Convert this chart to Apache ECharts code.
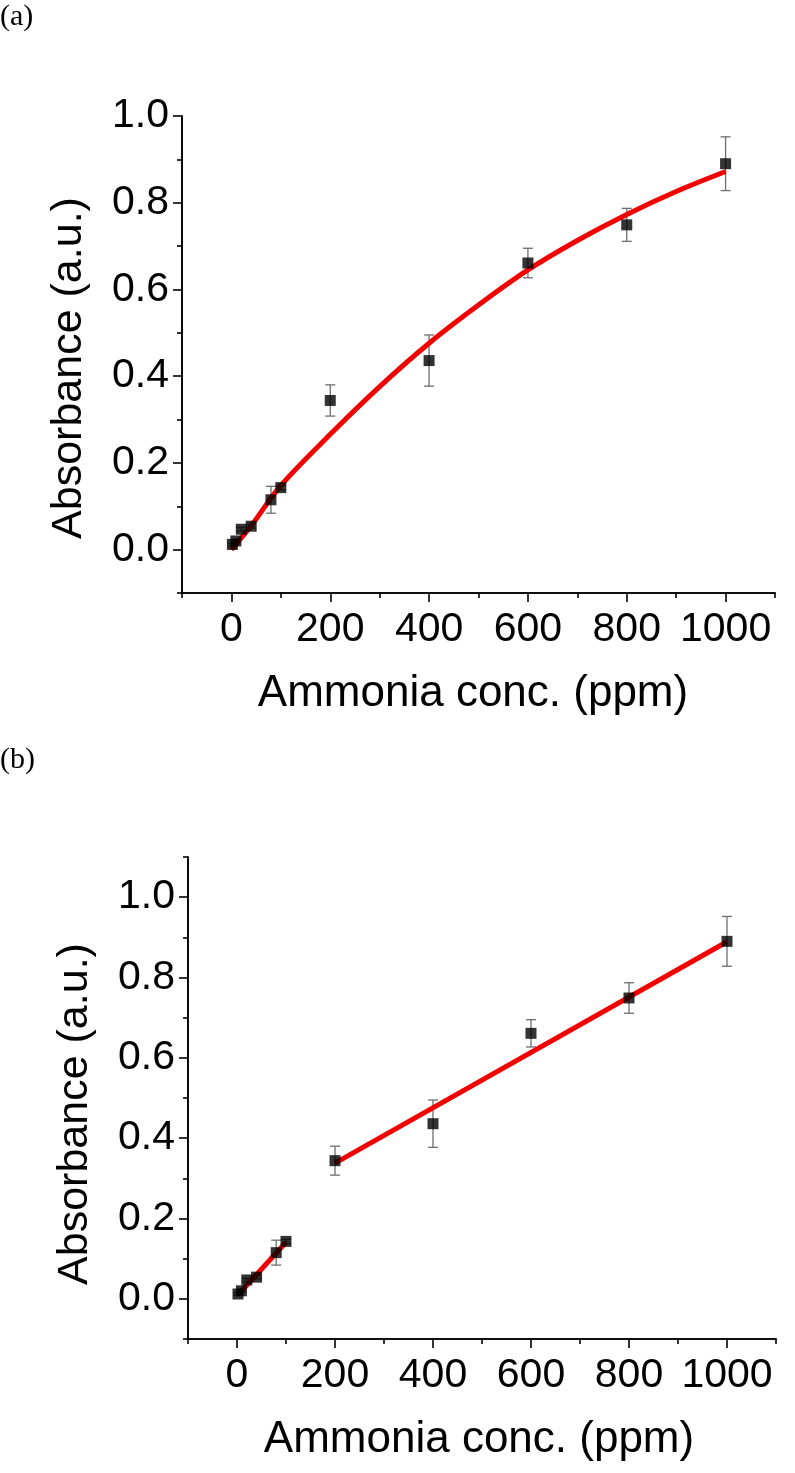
<!DOCTYPE html>
<html>
<head>
<meta charset="utf-8">
<script src="https://cdn.jsdelivr.net/npm/echarts@6/dist/echarts.min.js"></script>
<style>
html,body{margin:0;padding:0;background:#fff;}
#chart{width:795px;height:1473px;}
</style>
</head>
<body>
<div id="chart"></div>
<script>
// ---- data ----
const conc = [2, 9, 20, 40, 80, 100, 200, 400, 600, 800, 1000];
const absorbance = [0.012, 0.020, 0.047, 0.054, 0.115, 0.143, 0.344, 0.436, 0.661, 0.749, 0.890];
const errHalf = [0.003, 0.004, 0.004, 0.004, 0.031, 0.005, 0.036, 0.059, 0.034, 0.038, 0.062];

// panel (a) fitted curve
const fitCurveX = [0, 40, 100, 200, 300, 400, 500, 600, 700, 800, 900, 1000];
const fitCurveY = [0.0, 0.055, 0.148, 0.266, 0.376, 0.476, 0.564, 0.645, 0.713, 0.773, 0.826, 0.872];

// panel (b) two linear segments
const lowFitX = [3, 100];
const lowFitY = [0.011, 0.141];
const highFitX = [200, 1000];
const highFitY = [0.338, 0.889];

const xMajorTicks = [0, 200, 400, 600, 800, 1000];
const xMinorTicks = [-100, 100, 300, 500, 700, 900, 1100];
const yMajorTicks = [0, 0.2, 0.4, 0.6, 0.8, 1.0];
const yMinorTicksA = [-0.1, 0.1, 0.3, 0.5, 0.7, 0.9];
const yMinorTicksB = [-0.1, 0.1, 0.3, 0.5, 0.7, 0.9, 1.1];

const points = conc.map((x, i) => [x, absorbance[i]]);
const errs = conc.map((x, i) => [x, absorbance[i] - errHalf[i], absorbance[i] + errHalf[i]]);
const zip = (xs, ys) => xs.map((x, i) => [x, ys[i]]);

const chart = echarts.init(document.getElementById('chart'), null, {renderer: 'canvas'});

const axisLine = {show: true, onZero: false, lineStyle: {color: '#000', width: 1.6}};

function xAxes(grid) {
  return [
    {
      type: 'value', gridIndex: grid, min: -100, max: 1100, position: 'bottom',
      axisLine: axisLine,
      axisTick: {show: true, inside: false, length: 9, lineStyle: {color: '#000', width: 1.6}, customValues: xMajorTicks},
      axisLabel: {show: true, customValues: xMajorTicks, margin: 16, color: '#000', fontSize: 41,
        fontFamily: '"Liberation Sans Narrow", "Arial Narrow", "Liberation Sans", Arial, sans-serif',
        formatter: v => String(Math.round(v))},
      splitLine: {show: false}
    },
    {
      type: 'value', gridIndex: grid, min: -100, max: 1100, position: 'bottom',
      axisLine: axisLine,
      axisTick: {show: true, inside: false, length: 5, lineStyle: {color: '#000', width: 1.6}, customValues: xMinorTicks},
      axisLabel: {show: false},
      splitLine: {show: false}
    }
  ];
}

function yAxes(grid, max, minor) {
  return [
    {
      type: 'value', gridIndex: grid, min: -0.1, max: max, position: 'left',
      axisLine: axisLine,
      axisTick: {show: true, inside: false, length: 9, lineStyle: {color: '#000', width: 1.6}, customValues: yMajorTicks},
      axisLabel: {show: true, customValues: yMajorTicks, margin: 13, color: '#000', fontSize: 41,
        fontFamily: '"Liberation Sans", Arial, sans-serif',
        formatter: v => v.toFixed(1)},
      splitLine: {show: false}
    },
    {
      type: 'value', gridIndex: grid, min: -0.1, max: max, position: 'left',
      axisLine: axisLine,
      axisTick: {show: true, inside: false, length: 5, lineStyle: {color: '#000', width: 1.6}, customValues: minor},
      axisLabel: {show: false},
      splitLine: {show: false}
    }
  ];
}

function errorSeries(xi, yi) {
  return {
    type: 'custom', xAxisIndex: xi, yAxisIndex: yi, z: 2,
    data: errs,
    renderItem: function (params, api) {
      const x = api.value(0);
      const top = api.coord([x, api.value(2)]);
      const bot = api.coord([x, api.value(1)]);
      const cap = 5;
      const st = {stroke: '#6e6e6e', lineWidth: 1.3};
      return {
        type: 'group',
        children: [
          {type: 'line', shape: {x1: top[0], y1: top[1], x2: bot[0], y2: bot[1]}, style: st},
          {type: 'line', shape: {x1: top[0] - cap, y1: top[1], x2: top[0] + cap, y2: top[1]}, style: st},
          {type: 'line', shape: {x1: bot[0] - cap, y1: bot[1], x2: bot[0] + cap, y2: bot[1]}, style: st}
        ]
      };
    }
  };
}

function scatterSeries(xi, yi) {
  return {
    type: 'scatter', xAxisIndex: xi, yAxisIndex: yi, z: 4,
    symbol: 'rect', symbolSize: 11,
    itemStyle: {color: '#000'},
    data: points
  };
}

function lineSeries(xi, yi, data, smooth) {
  return {
    type: 'line', xAxisIndex: xi, yAxisIndex: yi, z: 3,
    data: data, smooth: smooth, showSymbol: false, symbol: 'none',
    lineStyle: {color: '#f20000', width: 5}
  };
}

const serif = '"Liberation Serif", "Times New Roman", serif';
const sans = '"Liberation Sans", Arial, sans-serif';

const option = {
  backgroundColor: '#fff',
  animation: false,
  grid: [
    {left: 182, top: 116, width: 593, height: 477},
    {left: 188, top: 857, width: 588, height: 482}
  ],
  xAxis: [...xAxes(0), ...xAxes(1)],
  yAxis: [...yAxes(0, 1.0, yMinorTicksA), ...yAxes(1, 1.1, yMinorTicksB)],
  series: [
    errorSeries(0, 0),
    lineSeries(0, 0, zip(fitCurveX, fitCurveY), 0.3),
    scatterSeries(0, 0),
    errorSeries(2, 2),
    lineSeries(2, 2, zip(lowFitX, lowFitY), false),
    lineSeries(2, 2, zip(highFitX, highFitY), false),
    scatterSeries(2, 2)
  ],
  graphic: [
    {type: 'text', left: 0, top: 2, style: {text: '(a)', fontSize: 30, fontFamily: serif, fill: '#000'}},
    {type: 'text', left: 0, top: 745, style: {text: '(b)', fontSize: 30, fontFamily: serif, fill: '#000'}},
    {type: 'text', x: 473, y: 694, style: {text: 'Ammonia conc. (ppm)', fontSize: 44, fontFamily: sans, fill: '#000', align: 'center', verticalAlign: 'middle'}},
    {type: 'text', x: 479, y: 1440, style: {text: 'Ammonia conc. (ppm)', fontSize: 44, fontFamily: sans, fill: '#000', align: 'center', verticalAlign: 'middle'}},
    {type: 'text', x: 69, y: 368, rotation: Math.PI / 2, style: {text: 'Absorbance (a.u.)', fontSize: 43, fontFamily: sans, fill: '#000', align: 'center', verticalAlign: 'middle'}},
    {type: 'text', x: 75, y: 1114, rotation: Math.PI / 2, style: {text: 'Absorbance (a.u.)', fontSize: 43, fontFamily: sans, fill: '#000', align: 'center', verticalAlign: 'middle'}}
  ]
};

chart.setOption(option);
</script>
</body>
</html>
